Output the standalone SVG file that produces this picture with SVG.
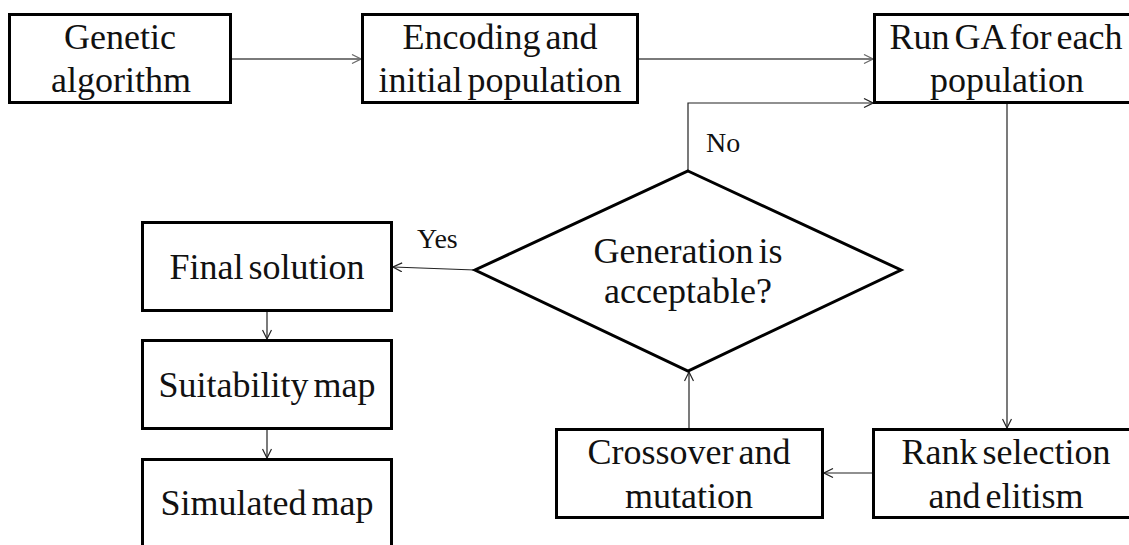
<svg xmlns="http://www.w3.org/2000/svg" width="1129" height="545" viewBox="0 0 1129 545">
  <style>
    .box { fill: #ffffff; stroke: #000000; stroke-width: 3; }
    .lbl { font-size: 36px; fill: #111111; text-anchor: middle; word-spacing: -4px; }
    .small { font-size: 28px; fill: #111111; }
    .conn { fill: none; stroke: #222222; stroke-width: 1.2; }
    .conn-gray { fill: none; stroke: #7a7a7a; stroke-width: 2; }
  </style>
  <defs>
    <marker id="arrow" viewBox="0 0 10 10" refX="10" refY="5" markerWidth="10" markerHeight="10" markerUnits="userSpaceOnUse" orient="auto">
      <path d="M1,0.5 L10,5 L1,9.5" fill="none" stroke="#222222" stroke-width="1.2"/>
    </marker>
    <marker id="arrow-gray" viewBox="0 0 10 10" refX="10" refY="5" markerWidth="10" markerHeight="10" markerUnits="userSpaceOnUse" orient="auto">
      <path d="M1,0.5 L10,5 L1,9.5" fill="none" stroke="#6a6a6a" stroke-width="1.2"/>
    </marker>
  </defs>
  <rect width="1129" height="545" fill="#ffffff"/>

  <g font-family="Liberation Serif, Times New Roman, serif">
  <!-- connectors -->
  <g id="connectors">
    <line class="conn-gray" x1="231" y1="59" x2="361" y2="59" marker-end="url(#arrow-gray)"/>
    <line class="conn-gray" x1="638" y1="59" x2="873" y2="59" marker-end="url(#arrow-gray)"/>
    <polyline class="conn" points="688,170 688,103 873,103" marker-end="url(#arrow)"/>
    <line class="conn" x1="1007" y1="103" x2="1007" y2="428" marker-end="url(#arrow)"/>
    <line class="conn" x1="873" y1="473" x2="824" y2="473" marker-end="url(#arrow)"/>
    <line class="conn" x1="689" y1="429" x2="689" y2="372" marker-end="url(#arrow)"/>
    <line class="conn" x1="475" y1="270" x2="393" y2="267" marker-end="url(#arrow)"/>
    <line class="conn" x1="267" y1="310" x2="267" y2="339" marker-end="url(#arrow)"/>
    <line class="conn" x1="267" y1="429" x2="267" y2="458" marker-end="url(#arrow)"/>
    <text class="small" x="706" y="152">No</text>
    <text class="small" x="417" y="248">Yes</text>
  </g>

  <g id="genetic-algorithm">
    <rect class="box" x="9.5" y="14.5" width="221" height="88"/>
    <text class="lbl" x="120" y="49">Genetic</text>
    <text class="lbl" x="121" y="92">algorithm</text>
  </g>

  <g id="encoding">
    <rect class="box" x="362.5" y="14.5" width="275" height="88"/>
    <text class="lbl" x="500" y="49">Encoding and</text>
    <text class="lbl" x="500" y="92">initial population</text>
  </g>

  <g id="run-ga">
    <rect class="box" x="874.5" y="14.5" width="270" height="88"/>
    <text class="lbl" x="1006" y="49">Run GA for each</text>
    <text class="lbl" x="1007" y="92">population</text>
  </g>

  <g id="decision">
    <polygon points="688,171 901,270 688,371 475,270" fill="#ffffff" stroke="#000000" stroke-width="3" stroke-linejoin="miter"/>
    <text class="lbl" x="688" y="263">Generation is</text>
    <text class="lbl" x="688" y="303">acceptable?</text>
  </g>

  <g id="final-solution">
    <rect class="box" x="142.5" y="222.5" width="249" height="88"/>
    <text class="lbl" x="267" y="279">Final solution</text>
  </g>

  <g id="suitability-map">
    <rect class="box" x="142.5" y="340.5" width="249" height="88"/>
    <text class="lbl" x="267" y="397">Suitability map</text>
  </g>

  <g id="simulated-map">
    <rect class="box" x="142.5" y="459.5" width="249" height="100"/>
    <text class="lbl" x="267" y="515">Simulated map</text>
  </g>

  <g id="crossover">
    <rect class="box" x="556.5" y="429.5" width="266" height="88"/>
    <text class="lbl" x="689" y="464">Crossover and</text>
    <text class="lbl" x="689" y="508">mutation</text>
  </g>

  <g id="rank-selection">
    <rect class="box" x="873.5" y="429.5" width="270" height="88"/>
    <text class="lbl" x="1006" y="464">Rank selection</text>
    <text class="lbl" x="1006" y="508">and elitism</text>
  </g>
  </g>
</svg>
